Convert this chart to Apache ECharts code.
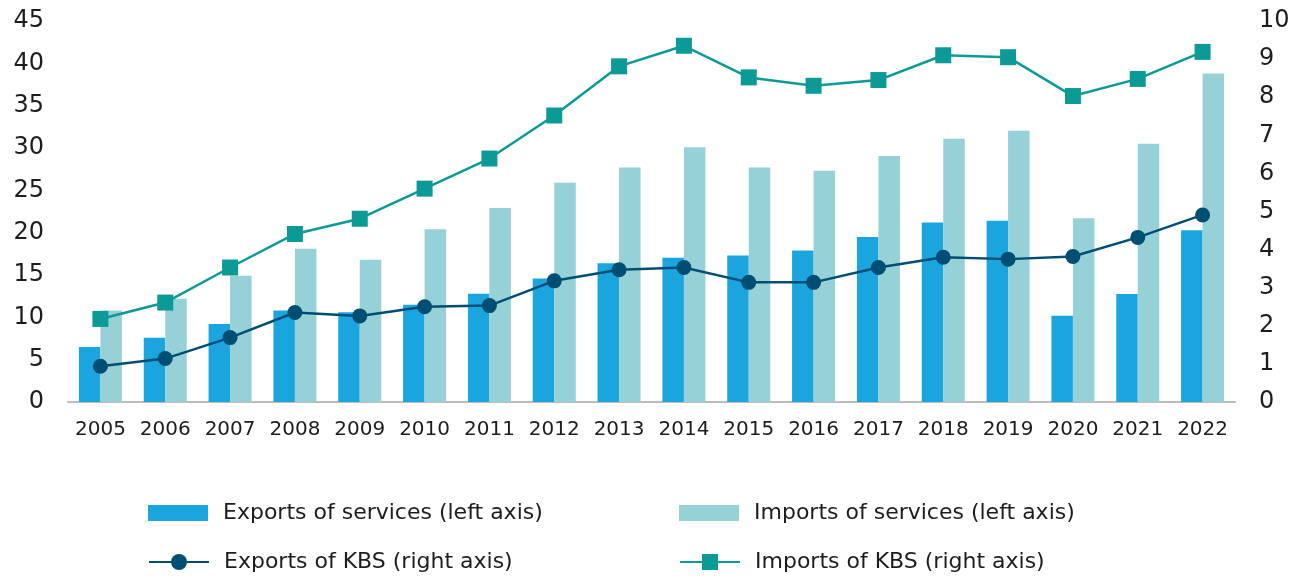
<!DOCTYPE html>
<html>
<head>
<meta charset="utf-8">
<title>Services and KBS trade</title>
<script src="https://cdn.jsdelivr.net/npm/echarts@6/dist/echarts.min.js"></script>
<style>
  html, body { margin: 0; padding: 0; background: #ffffff; }
  #chart { width: 1299px; height: 580px; }
</style>
</head>
<body>
<div id="chart"></div>
<script>
// Years on the category axis
const years = ['2005', '2006', '2007', '2008', '2009', '2010', '2011', '2012', '2013',
  '2014', '2015', '2016', '2017', '2018', '2019', '2020', '2021', '2022'];

// Left axis series
const exportsServices = [6.5, 7.6, 9.2, 10.8, 10.6, 11.5, 12.8, 14.6, 16.4, 17.05, 17.3, 17.9, 19.5, 21.2, 21.4, 10.2, 12.75, 20.3];
const importsServices = [10.8, 12.2, 14.9, 18.1, 16.8, 20.4, 22.9, 25.9, 27.7, 30.1, 27.7, 27.3, 29.05, 31.1, 32.05, 21.7, 30.5, 38.8];

// Right axis series
const exportsKBS = [0.94, 1.14, 1.69, 2.35, 2.26, 2.5, 2.53, 3.18, 3.47, 3.53, 3.14, 3.14, 3.53, 3.8, 3.75, 3.82, 4.32, 4.91];
const importsKBS = [2.18, 2.61, 3.53, 4.41, 4.81, 5.6, 6.39, 7.52, 8.81, 9.35, 8.52, 8.3, 8.45, 9.1, 9.05, 8.03, 8.48, 9.19];

const names = {
  expServ: 'Exports of services (left axis)',
  impServ: 'Imports of services (left axis)',
  expKBS: 'Exports of KBS (right axis)',
  impKBS: 'Imports of KBS (right axis)'
};

const colors = {
  expServ: '#1BA5DF',
  impServ: '#95D1D7',
  expKBS: '#004E73',
  impKBS: '#0C9A96'
};

const FONT = '"DejaVu Sans", sans-serif';
const TEXT = '#1d1d1d';

function legendAt(name, left, top, itemHeight, icon) {
  const cfg = {
    data: [name],
    left: left,
    top: top,
    padding: 0,
    itemWidth: 60,
    itemHeight: itemHeight,
    selectedMode: false,
    textStyle: {
      fontFamily: FONT,
      fontSize: 22,
      color: TEXT,
      padding: [0, 0, 0, 10]
    }
  };
  if (icon) cfg.icon = icon;
  return cfg;
}

const chart = echarts.init(document.getElementById('chart'), null, { renderer: 'canvas' });

chart.setOption({
  animation: false,
  backgroundColor: '#ffffff',
  grid: { left: 68, right: 64, top: 21, bottom: 178, containLabel: false },
  legend: [
    legendAt(names.expServ, 148, 502, 16, 'rect'),
    legendAt(names.impServ, 679, 502, 16, 'rect'),
    legendAt(names.expKBS, 148, 551, 20),
    legendAt(names.impKBS, 679, 551, 20)
  ],
  xAxis: {
    type: 'category',
    data: years,
    axisTick: { show: false },
    axisLine: { show: true, lineStyle: { color: '#BDBDBD', width: 2 } },
    axisLabel: { fontFamily: FONT, fontSize: 20, color: TEXT, margin: 18, interval: 0, hideOverlap: false }
  },
  yAxis: [
    {
      type: 'value',
      min: 0, max: 45, interval: 5,
      splitLine: { show: false },
      axisLine: { show: false },
      axisTick: { show: false },
      axisLabel: { fontFamily: FONT, fontSize: 24, color: TEXT, margin: 24 }
    },
    {
      type: 'value',
      min: 0, max: 10, interval: 1,
      position: 'right',
      splitLine: { show: false },
      axisLine: { show: false },
      axisTick: { show: false },
      axisLabel: { fontFamily: FONT, fontSize: 24, color: TEXT, margin: 24 }
    }
  ],
  series: [
    {
      name: names.expServ,
      type: 'bar',
      data: exportsServices,
      barWidth: 21.5,
      barGap: '0%',
      itemStyle: { color: colors.expServ }
    },
    {
      name: names.impServ,
      type: 'bar',
      data: importsServices,
      barWidth: 21.5,
      barGap: '0%',
      itemStyle: { color: colors.impServ }
    },
    {
      name: names.expKBS,
      type: 'line',
      yAxisIndex: 1,
      data: exportsKBS,
      symbol: 'circle',
      symbolSize: 15,
      z: 5,
      lineStyle: { color: colors.expKBS, width: 2.5 },
      itemStyle: { color: colors.expKBS }
    },
    {
      name: names.impKBS,
      type: 'line',
      yAxisIndex: 1,
      data: importsKBS,
      symbol: 'rect',
      symbolSize: 16,
      z: 4,
      lineStyle: { color: colors.impKBS, width: 2.5 },
      itemStyle: { color: colors.impKBS }
    }
  ]
});
</script>
</body>
</html>
